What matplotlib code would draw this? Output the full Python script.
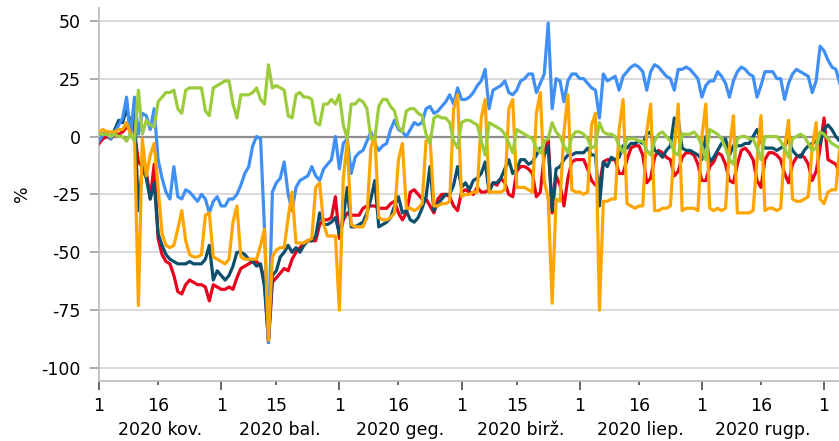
import numpy as np
import pandas as pd
import matplotlib
matplotlib.use("Agg")
import matplotlib.pyplot as plt
import matplotlib.dates as mdates
from matplotlib.transforms import blended_transform_factory

plt.rcParams['font.family'] = ['DejaVu Sans']
plt.rcParams['axes.unicode_minus'] = False

start = '2020-03-01'

# daily values from 1 March 2020, one row per week (Sunday..Saturday)
workplaces = [
    2, 3, 2, 2, 2, 3, 3,
    6, 1, 0, -73, -1, -17, -8,
    -3, -22, -42, -47, -48, -47, -40,
    -32, -45, -51, -52, -52, -51, -34,
    -33, -52, -53, -54, -55, -53, -37,
    -30, -52, -53, -53, -53, -53, -47,
    -40, -88, -52, -49, -48, -48, -35,
    -24, -46, -46, -46, -45, -44, -22,
    -20, -38, -43, -43, -43, -75, -18,
    -2, -38, -39, -39, -39, -35, -5,
    1, -35, -36, -36, -35, -33, -10,
    -3, -31, -31, -32, -31, -29, -2,
    0, -30, -30, -29, -29, -28, 12,
    18, -26, -25, -25, -24, -24, 8,
    16, -24, -24, -24, -24, -23, 12,
    16, -22, -22, -22, -23, -24, 10,
    19, -19, -27, -72, -27, -28, 2,
    18, -23, -24, -24, -25, -24, 5,
    10, -75, -28, -28, -27, -27, 3,
    16, -29, -30, -31, -30, -30, 2,
    14, -32, -32, -31, -31, -30, -5,
    14, -32, -31, -31, -31, -32, 0,
    14, -31, -32, -31, -32, -31, -5,
    9, -33, -33, -33, -33, -32, -10,
    9, -32, -31, -31, -32, -31, -5,
    7, -27, -28, -28, -27, -26, -5,
    6, -27, -29, -24, -23, -23, -5,
]

parks = [
    -2, 1, 1, -1, 2, 5, 8,
    17, 0, 17, 1, 10, 9, 3,
    12, -10, -18, -24, -27, -13, -26,
    -27, -23, -24, -26, -28, -25, -27,
    -33, -28, -26, -30, -30, -27, -27,
    -25, -21, -16, -13, -4, 0, -1,
    -40, -89, -24, -20, -18, -11, -25,
    -32, -22, -19, -18, -17, -13, -17,
    -19, -14, -12, -10, 0, -14, -3,
    -1, -16, -9, -7, -6, -2, 2,
    -3, -6, -4, -3, 3, 7, 3,
    2, 0, 3, 6, 5, 6, 12,
    13, 10, 11, 13, 15, 18, 14,
    21, 16, 16, 17, 19, 22, 24,
    29, 12, 20, 21, 22, 24, 19,
    18, 20, 24, 25, 27, 27, 19,
    23, 27, 49, 12, 25, 24, 15,
    24, 27, 27, 25, 25, 23, 21,
    20, 8, 27, 24, 25, 26, 20,
    26, 28, 30, 31, 30, 28, 20,
    28, 31, 30, 28, 26, 25, 20,
    29, 29, 30, 29, 27, 25, 17,
    22, 24, 24, 28, 26, 23, 17,
    24, 28, 30, 29, 27, 26, 17,
    22, 28, 28, 28, 25, 25, 16,
    23, 27, 29, 28, 27, 26, 19,
    24, 39, 37, 33, 30, 29, 23,
]

residential = [
    1, 1, 1, 0, 1, 0, 0,
    -2, 1, -2, 20, 1, 7, 5,
    4, 15, 17, 19, 19, 20, 12,
    10, 20, 21, 21, 21, 21, 11,
    9, 21, 22, 23, 24, 24, 14,
    8, 18, 18, 18, 19, 21, 16,
    14, 31, 21, 22, 21, 20, 9,
    8, 18, 19, 17, 17, 16, 6,
    5, 14, 14, 16, 14, 18, 5,
    -1, 14, 14, 16, 15, 12, -1,
    -1, 13, 16, 16, 13, 11, 4,
    2, 11, 12, 12, 10, 9, 1,
    -3, 8, 9, 8, 8, 6, -2,
    -5, 6, 7, 7, 6, 5, -2,
    -8, 6, 5, 4, 3, 1, -3,
    -7, 3, 2, 1, 0, -1, -5,
    -7, -2, -1, 6, 2, 0, -4,
    -7, 0, 2, 2, 1, -1, -5,
    -4, 6, 2, 1, 1, 0, -4,
    -7, -1, -1, -1, -2, -2, -6,
    -8, -2, 1, 2, 0, -2, -7,
    -8, 1, 1, 1, 2, 0, -4,
    -10, 3, 2, 1, -1, -5, -10,
    -12, -1, 0, 0, -1, -1, -5,
    -10, 0, 0, 0, 0, -2, -5,
    -9, -1, 0, 1, 0, -3, -6,
    -5, 2, 1, -1, -3, -4, -5,
]

retail = [
    1, 1, 2, -1, 3, 7, 6,
    12, 5, 10, -32, -13, -18, -27,
    -20, -42, -47, -51, -53, -54, -55,
    -55, -55, -54, -55, -55, -55, -53,
    -47, -62, -58, -60, -62, -60, -56,
    -50, -50, -51, -53, -54, -56, -55,
    -65, -88, -60, -58, -52, -50, -47,
    -50, -48, -50, -47, -45, -45, -43,
    -33, -38, -38, -37, -35, -42, -35,
    -22, -39, -39, -38, -37, -33, -27,
    -19, -39, -38, -37, -35, -30, -26,
    -33, -32, -36, -37, -35, -31, -26,
    -13, -32, -29, -27, -25, -25, -21,
    -13, -22, -20, -23, -19, -18, -16,
    -11, -24, -20, -20, -18, -14, -10,
    -16, -14, -10, -10, -12, -11, -8,
    -5, -8, -4, -32, -14, -13, -10,
    -8, -8, -7, -7, -7, -5, -8,
    -8, -30, -11, -13, -9, -10, -9,
    -4, -5, -3, -3, -2, -3, 1,
    2, -6, -7, -9, -6, -4, 8,
    7, -5, -6, -6, -7, -8, -10,
    0, -11, -9, -6, -3, -1, -8,
    -4, -4, -4, -3, -3, 0, 3,
    -2, -5, -5, -5, -6, -5, -4,
    -1, -6, -8, -9, -6, -4, -3,
    -2, -3, 3, 5, 3, 0, -2,
]

transit = [
    -3, -1, 0, -1, 1, 1, 2,
    4, 8, 2, -11, -13, -15, -27,
    -12, -44, -51, -54, -55, -60, -67,
    -68, -64, -62, -63, -64, -64, -65,
    -71, -64, -65, -66, -66, -65, -66,
    -61, -57, -56, -55, -54, -54, -56,
    -62, -89, -63, -61, -59, -57, -58,
    -53, -50, -48, -46, -45, -45, -45,
    -38, -36, -36, -35, -26, -44, -36,
    -33, -34, -34, -34, -31, -30, -30,
    -30, -31, -31, -31, -29, -28, -33,
    -36, -33, -24, -23, -25, -27, -27,
    -30, -33, -27, -25, -25, -26, -30,
    -32, -24, -23, -24, -25, -22, -24,
    -24, -23, -20, -21, -18, -20, -25,
    -26, -15, -13, -13, -14, -16, -26,
    -24, -8, -1, -33, -17, -21, -30,
    -18, -11, -10, -10, -10, -14, -19,
    -21, -21, -11, -10, -10, -10, -16,
    -16, -10, -5, -4, -4, -8, -20,
    -18, -9, -6, -7, -9, -10, -17,
    -15, -9, -7, -7, -8, -12, -19,
    -19, -13, -11, -7, -8, -12, -19,
    -20, -12, -6, -5, -7, -10, -19,
    -22, -10, -7, -7, -8, -10, -16,
    -20, -12, -9, -8, -9, -12, -19,
    -15, -5, 8, -10, -11, -12, -16,
]

months = ['2020 kov.', '2020 bal.', '2020 geg.', '2020 birž.', '2020 liep.', '2020 rugp.']
mid_month_days = ['2020-03-16', '2020-04-15', '2020-05-16', '2020-06-15', '2020-07-16', '2020-08-16']

dates = pd.date_range(start, periods=len(workplaces), freq='D')

fig = plt.figure(figsize=(8.39, 4.41), dpi=100)
ax = fig.add_axes([99 / 839, 60 / 441, 740 / 839, 373 / 441])

ax.axhline(0, color='#8c8c8c', lw=1.6, zorder=1)

ax.plot(dates, transit, color='#e8001c', lw=2.3, zorder=3)
ax.plot(dates, retail, color='#0b4f6c', lw=2.3, zorder=3)
ax.plot(dates, parks, color='#3f8ff5', lw=2.3, zorder=3)
ax.plot(dates, workplaces, color='#ffa500', lw=2.3, zorder=3)
ax.plot(dates, residential, color='#9ccc3c', lw=2.3, zorder=3)

x0 = pd.Timestamp(start)
ax.set_xlim(mdates.date2num(x0), mdates.date2num(x0) + 187.8)
ax.set_ylim(-105.6, 55.5)
ax.set_yticks([50, 25, 0, -25, -50, -75, -100])
ax.yaxis.grid(True, color='#d9d9d9', lw=1.4, zorder=0)
ax.set_axisbelow(True)

ax.xaxis.set_major_locator(mdates.MonthLocator())
ax.set_xticks(mdates.date2num(pd.to_datetime(mid_month_days)), minor=True)
day_fmt = plt.FuncFormatter(lambda v, p: str(mdates.num2date(v).day))
ax.xaxis.set_major_formatter(day_fmt)
ax.xaxis.set_minor_formatter(day_fmt)

ax.tick_params(axis='x', which='major', length=6.5, width=1.3, color='#595959',
               pad=5.2, labelsize=12.5, labelcolor='black')
ax.tick_params(axis='x', which='minor', length=3, width=1.3, color='#595959',
               pad=8.7, labelsize=12.5, labelcolor='black')
ax.tick_params(axis='y', length=6.5, width=1.3, color='#a6a6a6', pad=6.5,
               labelsize=12.5, labelcolor='black')

for s in ['top', 'right']:
    ax.spines[s].set_visible(False)
ax.spines['left'].set_color('#bfbfbf')
ax.spines['left'].set_linewidth(1.3)
ax.spines['bottom'].set_color('#bfbfbf')
ax.spines['bottom'].set_linewidth(1.3)

trans = blended_transform_factory(ax.transData, ax.transAxes)
month_starts = pd.date_range('2020-03-01', periods=len(months) + 1, freq='MS')
for i, name in enumerate(months):
    a = mdates.date2num(month_starts[i])
    b = mdates.date2num(month_starts[i + 1])
    ax.text((a + b) / 2, -0.131, name, transform=trans, ha='center', va='center', fontsize=12.5)

fig.text(22 / 839, 1 - 194 / 441, '%', rotation=90, ha='center', va='center', fontsize=12.5)

fig.savefig('out.png', dpi=100)
